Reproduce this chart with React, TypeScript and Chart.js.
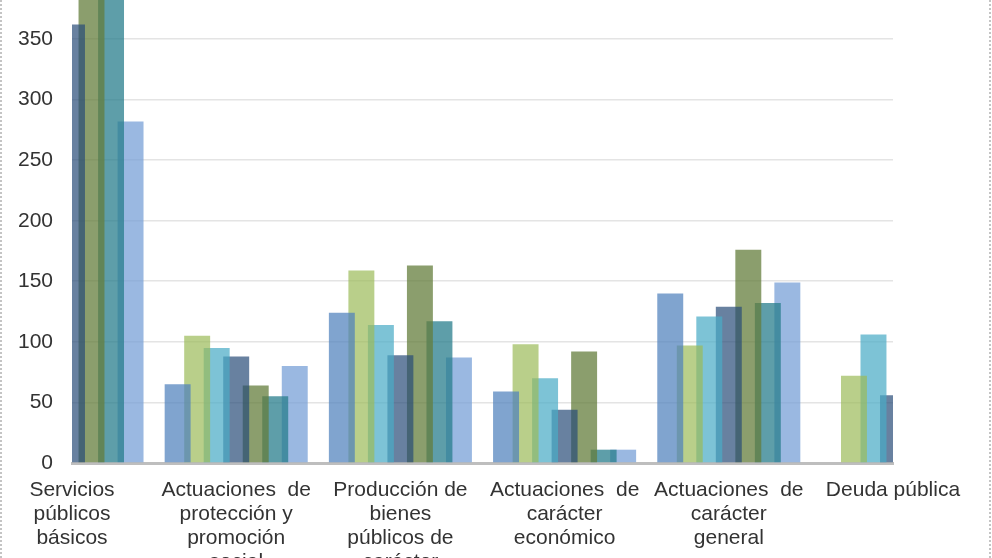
import React, { useEffect, useRef } from "react";
import { Chart, registerables } from "chart.js";

Chart.register(...registerables);

const categories: string[][] = [
  ["Servicios", "públicos", "básicos"],
  ["Actuaciones  de", "protección y", "promoción", "social"],
  ["Producción de", "bienes", "públicos de", "carácter", "preferente"],
  ["Actuaciones  de", "carácter", "económico"],
  ["Actuaciones  de", "carácter", "general"],
  ["Deuda pública"],
];

const seriesNames = ["Serie 1", "Serie 2", "Serie 3", "Serie 4", "Serie 5", "Serie 6", "Serie 7"];

const serie1 = [340, 65, 124, 59, 140, 0];
const serie2 = [390, 105, 159, 98, 97, 72];
const serie3 = [380, 95, 114, 70, 121, 106];
const serie4 = [362, 88, 89, 44, 129, 56];
const serie5 = [420, 64, 163, 92, 176, 60];
const serie6 = [410, 55, 117, 11, 132, 90];
const serie7 = [282, 80, 87, 11, 149, 100];

const yTicks = [0, 50, 100, 150, 200, 250, 300, 350];
const yMax = 382.2;

const seriesColors = [
  "rgba(79,129,189,0.72)",
  "rgba(155,187,89,0.70)",
  "rgba(75,172,198,0.72)",
  "rgba(40,75,120,0.70)",
  "rgba(100,125,60,0.75)",
  "rgba(40,125,140,0.75)",
  "rgba(120,160,215,0.75)",
];

export default function App() {
  const ref = useRef<HTMLCanvasElement | null>(null);

  useEffect(() => {
    if (!ref.current) return;
    const all = [serie1, serie2, serie3, serie4, serie5, serie6, serie7];
    const font = { family: "'Liberation Sans', Arial, sans-serif", size: 21, lineHeight: 1.15 };
    const chart = new Chart(ref.current, {
      type: "bar",
      data: {
        labels: categories,
        datasets: all.map((d, i) => ({
          label: seriesNames[i],
          data: d,
          backgroundColor: seriesColors[i],
          borderWidth: 0,
          clip: 0,
        })),
      },
      options: {
        responsive: false,
        animation: false,
        devicePixelRatio: 1,
        layout: { padding: { left: 0, right: 99, top: 0, bottom: 0 } },
        datasets: {
          bar: { categoryPercentage: 0.832, barPercentage: 1.33 },
        },
        plugins: {
          legend: { display: false },
          tooltip: { enabled: false },
          title: { display: false },
        },
        scales: {
          x: {
            offset: false,
            grid: { display: false, drawTicks: false },
            border: { display: true, color: "#BEBEBE", width: 3 },
            ticks: {
              autoSkip: false,
              maxRotation: 0,
              minRotation: 0,
              padding: 15,
              color: "#333333",
              font,
            },
            afterFit: (s: any) => {
              s.height = 150;
              s.paddingLeft = 0;
              s.paddingRight = 0;
            },
          },
          y: {
            min: 0,
            max: yMax,
            afterBuildTicks: (s: any) => {
              s.ticks = yTicks.map((v) => ({ value: v }));
            },
            grid: { color: "#E4E4E4", lineWidth: 1.6, drawTicks: false },
            border: { display: false },
            ticks: {
              padding: 19,
              color: "#333333",
              font,
            },
            afterFit: (s: any) => {
              s.width = 72;
              s.paddingTop = 0;
              s.paddingBottom = 0;
            },
          },
        },
      },
    });
    return () => chart.destroy();
  }, []);

  return (
    <div
      style={{
        position: "fixed",
        left: 0,
        top: 0,
        width: 992,
        height: 558,
        overflow: "hidden",
        background: "#fff",
      }}
    >
      <canvas
        ref={ref}
        width={992}
        height={613}
        style={{ position: "absolute", left: 0, top: 0, width: 992, height: 613 }}
      />
      <div style={{ position: "absolute", left: 0, top: 0, width: 0, height: 558, borderLeft: "2px dotted #c4c4c4" }} />
      <div style={{ position: "absolute", left: 989, top: 0, width: 0, height: 558, borderLeft: "2px dotted #c4c4c4" }} />
    </div>
  );
}
